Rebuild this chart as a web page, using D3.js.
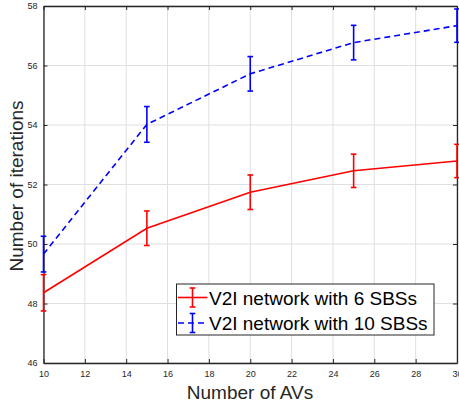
<!DOCTYPE html>
<html>
<head>
<meta charset="utf-8">
<script src="https://cdn.jsdelivr.net/npm/d3@7"></script>
<style>
  body { margin: 0; background: #fff; }
  text { font-family: "Liberation Sans", Arial, sans-serif; }
</style>
</head>
<body>
<div id="chart"></div>
<script>
// data
const avs = [10, 15, 20, 25, 30];
const sbs6 = [48.36, 50.53, 51.74, 52.46, 52.79];
const sbs6Err = [0.61, 0.58, 0.58, 0.56, 0.56];
const sbs10 = [49.66, 54.02, 55.72, 56.77, 57.34];
const sbs10Err = [0.6, 0.6, 0.58, 0.58, 0.56];
const xTicks = [10, 12, 14, 16, 18, 20, 22, 24, 26, 28, 30];
const yTicks = [46, 48, 50, 52, 54, 56, 58];
const seriesNames = ["V2I network with 6 SBSs", "V2I network with 10 SBSs"];

const width = 459, height = 404;
const margin = {top: 6, left: 43.5, right: 2, bottom: 41};

const svg = d3.select("#chart")
    .append("svg")
    .attr("width", width)
    .attr("height", height);

const xScale = d3.scaleLinear()
    .domain([10, 30])
    .range([margin.left, width - margin.right]);

const yScale = d3.scaleLinear()
    .domain([46, 58])
    .range([height - margin.bottom, margin.top]);

const axisColor = "#262626";

// grid
svg.append("g")
    .selectAll("line")
    .data(xTicks)
    .join("line")
    .attr("x1", d => xScale(d)).attr("x2", d => xScale(d))
    .attr("y1", yScale(46)).attr("y2", yScale(58))
    .attr("stroke", "#dfdfdf").attr("stroke-width", 1);

svg.append("g")
    .selectAll("line")
    .data(yTicks)
    .join("line")
    .attr("x1", xScale(10)).attr("x2", xScale(30))
    .attr("y1", d => yScale(d)).attr("y2", d => yScale(d))
    .attr("stroke", "#dfdfdf").attr("stroke-width", 1);

// axes (ticks inward, MATLAB box style)
const xAxis = svg.append("g")
    .attr("transform", `translate(0,${yScale(46)})`)
    .call(d3.axisBottom(xScale).tickValues(xTicks).tickSizeInner(-4).tickSizeOuter(0).tickPadding(8));
const xTop = svg.append("g")
    .attr("transform", `translate(0,${yScale(58)})`)
    .call(d3.axisTop(xScale).tickValues(xTicks).tickSizeInner(-4).tickSizeOuter(0).tickFormat(""));
const yAxis = svg.append("g")
    .attr("transform", `translate(${xScale(10)},0)`)
    .call(d3.axisLeft(yScale).tickValues(yTicks).tickSizeInner(-4).tickSizeOuter(0).tickPadding(6));
const yRight = svg.append("g")
    .attr("transform", `translate(${xScale(30)},0)`)
    .call(d3.axisRight(yScale).tickValues(yTicks).tickSizeInner(-4).tickSizeOuter(0).tickFormat(""));

[xAxis, xTop, yAxis, yRight].forEach(g => {
  g.selectAll("path").attr("stroke", axisColor).attr("stroke-width", 1.3);
  g.selectAll("line").attr("stroke", axisColor).attr("stroke-width", 1);
  g.selectAll("text").attr("fill", axisColor).style("font-size", "9px")
    .style("font-family", "Liberation Sans, Arial, sans-serif");
});

// series
const series = [
  {name: seriesNames[0], values: sbs6, err: sbs6Err, color: "#ff0000", dash: null},
  {name: seriesNames[1], values: sbs10, err: sbs10Err, color: "#0000ff", dash: "6,4"}
];

const line = d3.line()
    .x((d, i) => xScale(avs[i]))
    .y(d => yScale(d));

const cap = 2.8;

series.forEach(s => {
  svg.append("path")
      .datum(s.values)
      .attr("d", line)
      .attr("fill", "none")
      .attr("stroke", s.color)
      .attr("stroke-width", 1.6)
      .attr("stroke-dasharray", s.dash);

  const bars = svg.append("g")
      .selectAll("g")
      .data(s.values.map((v, i) => ({x: avs[i], v: v, e: s.err[i]})))
      .join("g")
      .attr("stroke", s.color)
      .attr("stroke-width", 1.6);

  bars.append("line")
      .attr("x1", d => xScale(d.x)).attr("x2", d => xScale(d.x))
      .attr("y1", d => yScale(d.v - d.e)).attr("y2", d => yScale(d.v + d.e));
  bars.append("line")
      .attr("x1", d => xScale(d.x) - cap).attr("x2", d => xScale(d.x) + cap)
      .attr("y1", d => yScale(d.v + d.e)).attr("y2", d => yScale(d.v + d.e));
  bars.append("line")
      .attr("x1", d => xScale(d.x) - cap).attr("x2", d => xScale(d.x) + cap)
      .attr("y1", d => yScale(d.v - d.e)).attr("y2", d => yScale(d.v - d.e));
});

// axis labels
svg.append("text")
    .attr("x", 250)
    .attr("y", 399)
    .attr("text-anchor", "middle")
    .attr("fill", axisColor)
    .style("font-size", "19px")
    .text("Number of AVs");

svg.append("text")
    .attr("transform", `translate(23,186) rotate(-90)`)
    .attr("text-anchor", "middle")
    .attr("fill", axisColor)
    .style("font-size", "19px")
    .text("Number of iterations");

// legend
const legend = svg.append("g").attr("transform", "translate(176.5,284)");
legend.append("rect")
    .attr("width", 257.5).attr("height", 51)
    .attr("fill", "#fff").attr("stroke", axisColor).attr("stroke-width", 1);

series.forEach((s, i) => {
  const row = legend.append("g").attr("transform", `translate(0,${13.5 + i * 25.5})`);
  row.append("line")
      .attr("x1", 1.5).attr("x2", 31).attr("y1", 0).attr("y2", 0)
      .attr("stroke", s.color).attr("stroke-width", 1.6)
      .attr("stroke-dasharray", s.dash);
  row.append("line")
      .attr("x1", 16).attr("x2", 16).attr("y1", -9.5).attr("y2", 9.5)
      .attr("stroke", s.color).attr("stroke-width", 1.6);
  row.append("line")
      .attr("x1", 16 - cap).attr("x2", 16 + cap).attr("y1", -9.5).attr("y2", -9.5)
      .attr("stroke", s.color).attr("stroke-width", 1.6);
  row.append("line")
      .attr("x1", 16 - cap).attr("x2", 16 + cap).attr("y1", 9.5).attr("y2", 9.5)
      .attr("stroke", s.color).attr("stroke-width", 1.6);
  row.append("text")
      .attr("x", 32.5).attr("y", 7)
      .attr("fill", "#000")
      .style("font-size", "19px")
      .text(s.name);
});
</script>
</body>
</html>
